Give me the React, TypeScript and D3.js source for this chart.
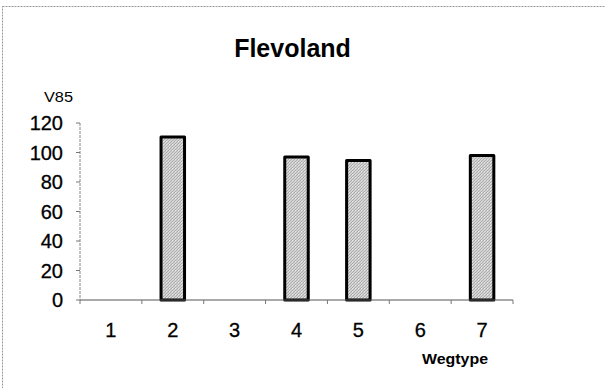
import React from "react";
import * as d3 from "d3";

const categories = ["1", "2", "3", "4", "5", "6", "7"];
const v85Values: (number | null)[] = [null, 110.5, null, 97, 94.5, null, 98];
const yTicks = [0, 20, 40, 60, 80, 100, 120];
const titleText = "Flevoland";
const yLabel = "V85";
const xLabel = "Wegtype";

const W = 605;
const H = 388;
const FONT = "'Liberation Sans', Arial, Helvetica, sans-serif";

export default function App() {
  const x = d3.scaleBand<string>().domain(categories).range([80, 513]).paddingInner(0).paddingOuter(0);
  const y = d3.scaleLinear().domain([0, 120]).range([300, 123]);
  const barW = 23.5;
  const bounds = d3.range(categories.length + 1).map((i) => 80 + i * x.step());

  return (
    <svg width={W} height={H} style={{ position: "absolute", left: 0, top: 0, background: "#fff" }}>
      <defs>
        <pattern id="stipple" width="3" height="3" patternUnits="userSpaceOnUse">
          <rect width="3" height="3" fill="#d2d2d2" />
          <rect x="0" y="0" width="1" height="1" fill="#a6a6a6" />
          <rect x="2" y="1" width="1" height="1" fill="#b0b0b0" />
          <rect x="1" y="2" width="1" height="1" fill="#ababab" />
          <rect x="1" y="0" width="1" height="1" fill="#e6e6e6" />
        </pattern>
      </defs>
      {/* outer chart border */}
      <rect x={2.5} y={6.5} width={W + 10} height={H + 10} fill="none" stroke="#999" strokeWidth={1} strokeDasharray="2,1" />
      {/* title */}
      <text x={292.5} y={57} textAnchor="middle" fontFamily={FONT} fontWeight="bold" fontSize={25} fill="#000">
        {titleText}
      </text>
      {/* y label */}
      <text x={58.5} y={102} textAnchor="middle" fontFamily={FONT} fontSize={14} fill="#000" textLength={29} lengthAdjust="spacingAndGlyphs">
        {yLabel}
      </text>
      {/* y axis */}
      <line x1={80} x2={80} y1={y(120)} y2={y(0)} stroke="#888" strokeWidth={1} strokeDasharray="3,1" />
      {yTicks.map((t) => (
        <g key={t}>
          <line x1={76} x2={80} y1={y(t)} y2={y(t)} stroke="#777" strokeWidth={1} />
          <text x={63} y={y(t)} dy="0.35em" textAnchor="end" fontFamily={FONT} fontSize={20} fill="#000" stroke="#000" strokeWidth={0.3}>
            {t}
          </text>
        </g>
      ))}
      {/* bars */}
      {categories.map((c, i) => {
        const v = v85Values[i];
        if (v == null) return null;
        const cx = (x(c) as number) + x.bandwidth() / 2;
        return (
          <rect
            key={c}
            x={cx - barW / 2}
            y={y(v)}
            width={barW}
            height={y(0) - y(v)}
            fill="url(#stipple)"
            stroke="#000"
            strokeWidth={3}
            strokeLinejoin="round"
          />
        );
      })}
      {/* x axis */}
      <line x1={80} x2={513} y1={300} y2={300} stroke="#555" strokeWidth={1} />
      {bounds.map((b, i) => (
        <line key={i} x1={b} x2={b} y1={300} y2={304} stroke="#777" strokeWidth={1} />
      ))}
      {categories.map((c) => (
        <text key={c} x={(x(c) as number) + x.bandwidth() / 2} y={337} textAnchor="middle" fontFamily={FONT} fontSize={20} fill="#000" stroke="#000" strokeWidth={0.3}>
          {c}
        </text>
      ))}
      <text x={455} y={364} textAnchor="middle" fontFamily={FONT} fontWeight="bold" fontSize={15} fill="#000" textLength={66} lengthAdjust="spacingAndGlyphs">
        {xLabel}
      </text>
    </svg>
  );
}
